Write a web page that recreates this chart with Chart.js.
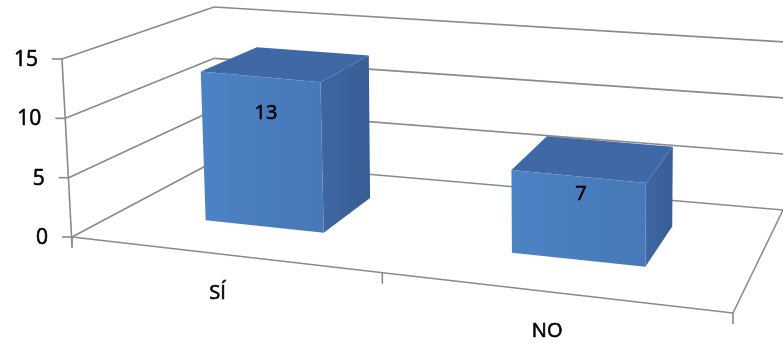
<!DOCTYPE html>
<html>
<head>
<meta charset="utf-8">
<script src="https://cdn.jsdelivr.net/npm/chart.js@4.4.1/dist/chart.umd.min.js"></script>
<style>
  html, body { margin: 0; padding: 0; background: #fff; }
  #wrap { width: 783px; height: 343px; }
</style>
</head>
<body>
<div id="wrap"><canvas id="grafico"></canvas></div>
<script>
// Datos
const categorias = ['SÍ', 'NO'];
const valores = [13, 7];
const maxEje = 15;
const pasoEje = 5;

// Marco 3D: posiciones en pantalla de las 8 esquinas de la caja [X][Y][Z]
const esquinas = {
    '000': [72, 237],  '100': [733, 313],
    '001': [215, 161], '101': [783, 210],
    '010': [62, 59],   '110': [736, 124],
    '011': [214, 7],   '111': [785, 42]
};
const perspectivaX = 1.13;   // compresión del lado izquierdo (más lejano)
const zFrente = 0.34, zFondo = 0.75;   // profundidad de las barras
const colorLinea = '#8a8a8a';
const fuente = '"Open Sans", "DejaVu Sans", sans-serif';

function lerp(a, b, t) { return [a[0] + (b[0] - a[0]) * t, a[1] + (b[1] - a[1]) * t]; }

// X, Y, Z en 0..1 -> pixel de pantalla (interpolación trilineal)
function proyectar(X, Y, Z) {
    const xw = X / (X + perspectivaX * (1 - X));
    const e = esquinas;
    const y0 = lerp(lerp(e['000'], e['100'], xw), lerp(e['001'], e['101'], xw), Z);
    const y1 = lerp(lerp(e['010'], e['110'], xw), lerp(e['011'], e['111'], xw), Z);
    return lerp(y0, y1, Y);
}

function linea(ctx, a, b) {
    ctx.beginPath();
    ctx.moveTo(a[0], a[1]);
    ctx.lineTo(b[0], b[1]);
    ctx.stroke();
}

function poligono(ctx, pts, relleno) {
    ctx.beginPath();
    ctx.moveTo(pts[0][0], pts[0][1]);
    for (let i = 1; i < pts.length; i++) ctx.lineTo(pts[i][0], pts[i][1]);
    ctx.closePath();
    ctx.fillStyle = relleno;
    ctx.fill();
}

// texto un poco más grueso, como en el original
function texto(ctx, s, x, y) {
    ctx.fillText(s, x, y);
    ctx.lineWidth = 0.6;
    ctx.strokeStyle = '#000';
    ctx.strokeText(s, x, y);
}

const barras3D = {
    id: 'barras3D',
    beforeDatasetsDraw() {
        return false; // las barras se dibujan en 3D abajo
    },
    afterDraw(chart) {
        const ctx = chart.ctx;
        const area = chart.chartArea;
        const xScale = chart.scales.x;
        const yScale = chart.scales.y;
        const normX = px => (px - area.left) / (area.right - area.left);
        const normY = py => (yScale.bottom - py) / (yScale.bottom - yScale.top);

        ctx.save();
        ctx.lineWidth = 1.6;
        ctx.strokeStyle = colorLinea;

        // Líneas de división en pared izquierda y fondo
        yScale.ticks.forEach(t => {
            const y = normY(yScale.getPixelForValue(t.value));
            linea(ctx, proyectar(0, y, 0), proyectar(0, y, 1));
            linea(ctx, proyectar(0, y, 1), proyectar(1, y, 1));
        });

        // Suelo
        linea(ctx, proyectar(0, 0, 0), proyectar(1, 0, 0));
        linea(ctx, proyectar(1, 0, 0), proyectar(1, 0, 1));

        // Eje vertical
        const base = proyectar(0, 0, 0);
        linea(ctx, [base[0], base[1] + 8], proyectar(0, 1, 0));

        // Marcas del eje Y
        yScale.ticks.forEach(t => {
            const p = proyectar(0, normY(yScale.getPixelForValue(t.value)), 0);
            linea(ctx, [p[0] - 10, p[1]], p);
        });

        // Marcas de categoría
        const paso = (area.right - area.left) / categorias.length;
        for (let i = 0; i <= categorias.length; i++) {
            const p = proyectar(normX(area.left + paso * i), 0, 0);
            linea(ctx, p, [p[0], p[1] + 11]);
        }

        // Etiquetas del eje Y
        ctx.fillStyle = '#000';
        ctx.font = '21px ' + fuente;
        ctx.textAlign = 'right';
        ctx.textBaseline = 'middle';
        yScale.ticks.forEach(t => {
            const p = proyectar(0, normY(yScale.getPixelForValue(t.value)), 0);
            texto(ctx, String(t.value), p[0] - 24, p[1] + 1);
        });

        // Etiquetas de categoría
        ctx.textAlign = 'center';
        ctx.font = '20px ' + fuente;
        categorias.forEach((c, i) => {
            const p = proyectar(normX(xScale.getPixelForValue(i)), 0, 0);
            texto(ctx, c, p[0] - 5, p[1] + 39);
        });

        // Barras 3D
        const meta = chart.getDatasetMeta(0);
        meta.data.forEach((el, i) => {
            const x0 = normX(el.x - el.width / 2);
            const x1 = normX(el.x + el.width / 2);
            const h = normY(el.y);
            const fA = proyectar(x0, h, zFrente), fB = proyectar(x1, h, zFrente);
            const fC = proyectar(x1, 0, zFrente), fD = proyectar(x0, 0, zFrente);
            const tA = proyectar(x0, h, zFondo), tB = proyectar(x1, h, zFondo);
            const sC = proyectar(x1, 0, zFondo);

            // lado derecho
            const gLado = ctx.createLinearGradient(fB[0], 0, tB[0], 0);
            gLado.addColorStop(0, '#3e67a3');
            gLado.addColorStop(1, '#375d95');
            poligono(ctx, [fB, tB, sC, fC], gLado);
            // tapa
            poligono(ctx, [fA, tA, tB, fB], '#3f69a6');
            // frente
            const gFrente = ctx.createLinearGradient(fA[0], 0, fB[0], 0);
            gFrente.addColorStop(0, '#4d82c4');
            gFrente.addColorStop(1, '#4778b8');
            poligono(ctx, [fA, fB, fC, fD], gFrente);

            // valor
            const p = proyectar(normX(el.x), h * 0.74, 0.38);
            ctx.fillStyle = '#000';
            ctx.font = '20px ' + fuente;
            ctx.textAlign = 'center';
            ctx.textBaseline = 'middle';
            texto(ctx, String(valores[i]), p[0], p[1]);
        });

        ctx.restore();
    }
};

new Chart(document.getElementById('grafico'), {
    type: 'bar',
    data: {
        labels: categorias,
        datasets: [{
            data: valores,
            backgroundColor: '#4f81bd',
            categoryPercentage: 1,
            barPercentage: 0.4
        }]
    },
    options: {
        responsive: true,
        maintainAspectRatio: false,
        animation: false,
        layout: { padding: 0 },
        plugins: { legend: { display: false }, tooltip: { enabled: false } },
        scales: {
            x: { display: false },
            y: { display: false, min: 0, max: maxEje, ticks: { stepSize: pasoEje } }
        }
    },
    plugins: [barras3D]
});
</script>
</body>
</html>
